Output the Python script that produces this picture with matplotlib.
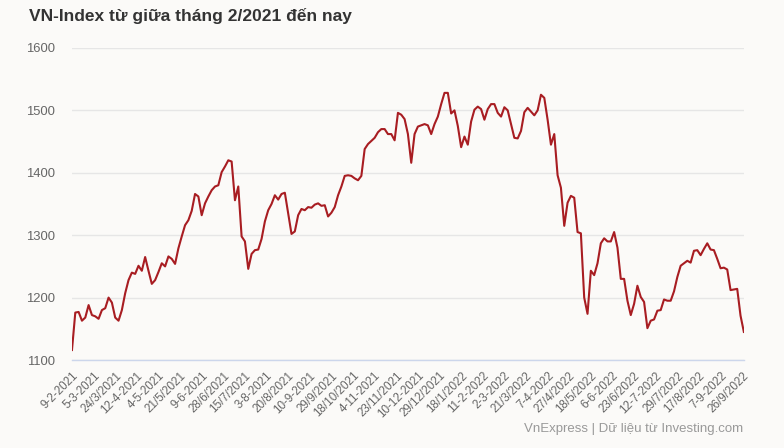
import matplotlib
matplotlib.use("Agg")
import matplotlib.pyplot as plt
import numpy as np

plt.rcParams['font.family'] = ['Liberation Sans', 'DejaVu Sans']

# VN-Index close, sampled every 2 trading days from 9-2-2021
vnindex = [
    1116, 1176, 1177, 1163, 1168, 1188, 1172, 1170, 1166, 1180,
    1183, 1200, 1192, 1168, 1163, 1180, 1207, 1228, 1240, 1238,
    1251, 1243, 1265, 1243, 1222, 1228, 1241, 1255, 1250, 1266,
    1262, 1254, 1279, 1298, 1316, 1324, 1339, 1366, 1362, 1332,
    1351, 1362, 1372, 1378, 1380, 1401, 1410, 1420, 1418, 1356,
    1378, 1298, 1290, 1246, 1270, 1276, 1277, 1294, 1322, 1340,
    1350, 1364, 1357, 1366, 1368, 1335, 1302, 1306, 1332, 1342,
    1340, 1345, 1344, 1349, 1351, 1347, 1348, 1330, 1336, 1345,
    1364, 1378, 1395, 1396, 1395, 1391, 1388, 1395, 1438, 1446,
    1451, 1456, 1465, 1470, 1470, 1462, 1462, 1452, 1496, 1493,
    1486, 1462, 1416, 1462, 1474, 1476, 1478, 1476, 1462, 1478,
    1490, 1510, 1528, 1528, 1495, 1500, 1475, 1441, 1458, 1445,
    1482, 1501, 1506, 1502, 1485, 1502, 1510, 1510, 1496, 1490,
    1505, 1500, 1478, 1456, 1455, 1467, 1497, 1504, 1498, 1492,
    1500, 1525, 1520, 1485, 1445, 1462, 1396, 1376, 1315, 1352,
    1363, 1360, 1305, 1303, 1200, 1174, 1243, 1236, 1255, 1287,
    1295, 1290, 1290, 1305, 1280, 1230, 1230, 1195, 1172, 1190,
    1219, 1201, 1193, 1151, 1163, 1165, 1179, 1180, 1197, 1195,
    1195, 1210, 1233, 1251, 1255, 1259, 1256, 1275, 1276, 1268,
    1278, 1287, 1277, 1276, 1262, 1247, 1248, 1245, 1212, 1213,
    1214, 1171, 1145,
]
day_step = 2

date_labels = [
    "9-2-2021", "5-3-2021", "24/3/2021", "12-4-2021", "4-5-2021", "21/5/2021",
    "9-6-2021", "28/6/2021", "15/7/2021", "3-8-2021", "20/8/2021", "10-9-2021",
    "29/9/2021", "18/10/2021", "4-11-2021", "23/11/2021", "10-12-2021",
    "29/12/2021", "18/1/2022", "11-2-2022", "2-3-2022", "21/3/2022", "7-4-2022",
    "27/4/2022", "18/5/2022", "6-6-2022", "23/6/2022", "12-7-2022", "29/7/2022",
    "17/8/2022", "7-9-2022", "26/9/2022",
]
label_every = 13  # trading days between labels

y_ticks = [1100, 1200, 1300, 1400, 1500, 1600]

bg = '#fbfaf8'
fig = plt.figure(figsize=(7.84, 4.48), dpi=100, facecolor=bg)
ax = fig.add_axes([0.0918, 0.1964, 0.857, 0.6966], facecolor=bg)

days = np.arange(len(vnindex)) * day_step
ax.plot(days, vnindex, color='#a81d22', linewidth=1.5, solid_joinstyle='round')

ax.set_xlim(0, days[-1])
ax.set_ylim(y_ticks[0], y_ticks[-1])
ax.set_yticks(y_ticks)
ax.set_xticks(np.arange(len(date_labels)) * label_every)
ax.set_xticklabels(date_labels, rotation=45, ha='right', va='top',
                   rotation_mode='anchor')

ax.grid(axis='y', color='#e6e6e6', linewidth=1)
ax.set_axisbelow(True)
for s in ['top', 'right', 'left']:
    ax.spines[s].set_visible(False)
ax.spines['bottom'].set_color('#ccd6eb')
ax.spines['bottom'].set_linewidth(1)
ax.tick_params(axis='y', length=0, pad=12, labelsize=9.4, labelcolor='#666666')
ax.tick_params(axis='x', length=0, pad=7, labelsize=8.4, labelcolor='#666666')

fig.text(29 / 784, 1 - 16 / 448, "VN-Index từ giữa tháng 2/2021 đến nay",
         fontsize=12.5, fontweight='bold', color='#333333', ha='left', va='center')
fig.text(743 / 784, 1 - 429 / 448, "VnExpress | Dữ liệu từ Investing.com",
         fontsize=9.5, color='#999999', ha='right', va='center')

fig.savefig('out.png', dpi=100, facecolor=bg)
